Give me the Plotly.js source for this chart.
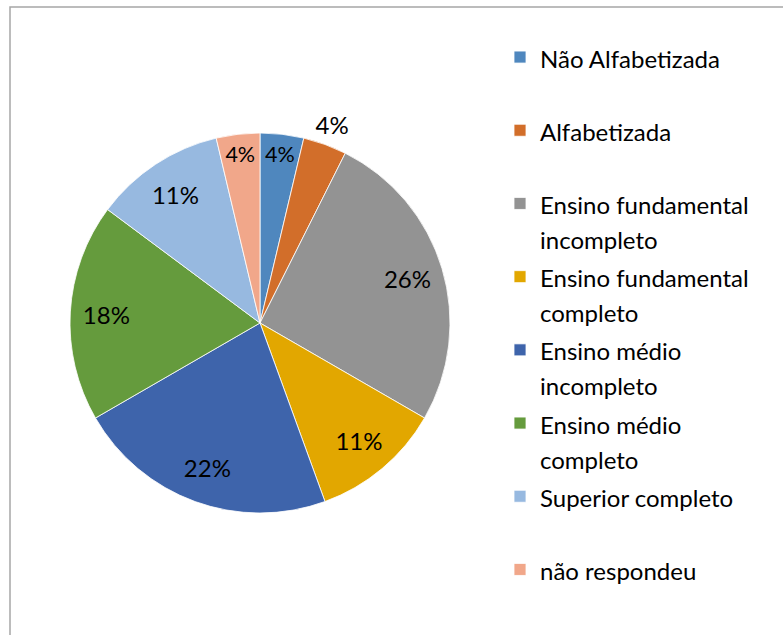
<!DOCTYPE html>
<html>
<head>
<meta charset="utf-8">
<script src="https://cdn.plot.ly/plotly-3.0.1.min.js"></script>
<style>
html,body{margin:0;padding:0;background:#fff;}
#chart{width:783px;height:635px;}
</style>
</head>
<body>
<div id="chart"></div>
<script>
// Categories (legend text, line breaks as in the original legend)
const categories = [
  "Não Alfabetizada",
  "Alfabetizada",
  "Ensino fundamental<br>incompleto",
  "Ensino fundamental<br>completo",
  "Ensino médio<br>incompleto",
  "Ensino médio<br>completo",
  "Superior completo",
  "não respondeu"
];
// Respondent counts
const counts = [1, 1, 7, 3, 6, 5, 3, 1];
// Percentage labels as printed on the chart
const percentLabels = ["4%", "4%", "26%", "11%", "22%", "18%", "11%", "4%"];
// which labels sit outside the pie
const labelOutside = [false, true, false, false, false, false, false, false];
const sliceColors = ["#4F87BE", "#D26E2A", "#939393", "#E2A700", "#3E64AB", "#659B3D", "#97B9E0", "#F1A78A"];

const FONT = "Lato, 'Open Sans', sans-serif";
const TXT = 24;

// every legend entry gets two lines so that the entries are evenly spaced
const legendLabels = categories.map(c => {
  const lines = c.split("<br>");
  while (lines.length < 2) lines.push("\u00a0");
  return lines.map(l => '<span style="font-size:' + TXT + 'px">' + l + '</span>').join("<br>");
});

const W = 783, H = 635;
const cx = 260, cy = 323, R = 190;
function dom(r) {
  return { x: [(cx - r) / W, (cx + r) / W], y: [(H - cy - r) / H, (H - cy + r) / H] };
}
const clear = counts.map(() => "rgba(0,0,0,0)");
const common = {
  type: "pie", values: counts, sort: false, direction: "clockwise", rotation: 0,
  hoverinfo: "skip"
};

const data = [
  // the pie itself
  Object.assign({}, common, {
    labels: legendLabels,
    textinfo: "none",
    marker: { colors: sliceColors, line: { color: "#ffffff", width: 0.8 } },
    domain: dom(R)
  }),
  // inside labels, placed in an outer ring of the same pie
  Object.assign({}, common, {
    labels: legendLabels, showlegend: false,
    hole: 0.62,
    text: percentLabels.map((t, i) => labelOutside[i] ? "" : t),
    textinfo: "text", textposition: "inside", insidetextorientation: "horizontal",
    insidetextfont: { family: FONT, size: TXT, color: "#000000" },
    marker: { colors: clear, line: { width: 0 } },
    domain: dom(R)
  }),
  // outside labels, in a ring just beyond the pie edge
  Object.assign({}, common, {
    labels: legendLabels, showlegend: false,
    hole: 0.78,
    text: percentLabels.map((t, i) => labelOutside[i] ? t : ""),
    textinfo: "text", textposition: "inside", insidetextorientation: "horizontal",
    insidetextfont: { family: FONT, size: TXT, color: "#000000" },
    marker: { colors: clear, line: { width: 0 } },
    domain: dom(R * 1.24)
  })
];

const layout = {
  width: W, height: H,
  margin: { l: 0, r: 0, t: 0, b: 0, pad: 0 },
  paper_bgcolor: "#ffffff",
  font: { family: FONT, color: "#000000", size: TXT },
  showlegend: true,
  legend: {
    x: 500 / W, xanchor: "left",
    y: 1 - 33 / H, yanchor: "top",
    valign: "top",
    font: { family: FONT, size: 27, color: "#000000" },
    bgcolor: "rgba(0,0,0,0)",
    itemclick: false, itemdoubleclick: false
  },
  shapes: [{
    type: "rect", xref: "paper", yref: "paper",
    x0: 10 / W, x1: 1.01, y0: -0.01, y1: 1 - 7 / H,
    line: { color: "#A6A6A6", width: 1.5 }, fillcolor: "rgba(0,0,0,0)", layer: "below"
  }]
};

Plotly.newPlot("chart", data, layout, { displayModeBar: false, staticPlot: true });
</script>
</body>
</html>
